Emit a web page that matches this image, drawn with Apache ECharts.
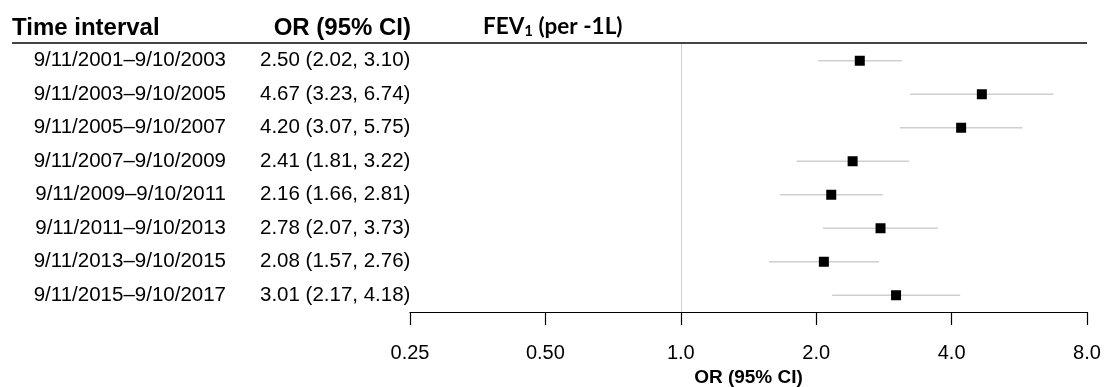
<!DOCTYPE html>
<html>
<head>
<meta charset="utf-8">
<script src="https://cdn.jsdelivr.net/npm/echarts@6/dist/echarts.min.js"></script>
<style>
  html, body {margin: 0; padding: 0; background: #fff;}
  #chart {width: 1104px; height: 387px;}
</style>
</head>
<body>
<div id="chart"></div>
<script>
    const intervals = [
        '9/11/2001–9/10/2003',
        '9/11/2003–9/10/2005',
        '9/11/2005–9/10/2007',
        '9/11/2007–9/10/2009',
        '9/11/2009–9/10/2011',
        '9/11/2011–9/10/2013',
        '9/11/2013–9/10/2015',
        '9/11/2015–9/10/2017'
    ];
    const orValues = [2.50, 4.67, 4.20, 2.41, 2.16, 2.78, 2.08, 3.01];
    const ciLow = [2.02, 3.23, 3.07, 1.81, 1.66, 2.07, 1.57, 2.17];
    const ciHigh = [3.10, 6.74, 5.75, 3.22, 2.81, 3.73, 2.76, 4.18];
    const xTicks = [0.25, 0.5, 1, 2, 4, 8];
    const xTickLabels = ['0.25', '0.50', '1.0', '2.0', '4.0', '8.0'];

    const font = '"Liberation Sans", Arial, Helvetica, sans-serif';
    const orText = orValues.map((v, i) =>
        v.toFixed(2) + ' (' + ciLow[i].toFixed(2) + ', ' + ciHigh[i].toFixed(2) + ')');

    const myChart = echarts.init(document.getElementById('chart'));

    myChart.setOption({
        animation: false,
        textStyle: {fontFamily: font, color: '#000'},
        grid: {left: 410, right: 17, top: 44, height: 268, containLabel: false, outerBoundsMode: 'none'},
        xAxis: {
            type: 'log',
            logBase: 2,
            min: 0.25,
            max: 8,
            interval: 1,
            splitLine: {show: false},
            axisLine: {show: true, onZero: false, lineStyle: {color: '#000', width: 1.2}},
            axisTick: {show: true, length: 13, lineStyle: {color: '#000', width: 1.2}},
            axisLabel: {
                fontSize: 20,
                color: '#000',
                margin: 31,
                formatter(val) {
                    const k = xTicks.findIndex(t => Math.abs(t - val) < 1e-6);
                    return k >= 0 ? xTickLabels[k] : '';
                }
            },
            name: 'OR (95% CI)',
            nameLocation: 'middle',
            nameGap: 56,
            nameTextStyle: {fontSize: 19, fontWeight: 'bold', color: '#000'}
        },
        yAxis: [{
            type: 'category',
            data: intervals,
            inverse: true,
            axisLine: {show: false},
            axisTick: {show: false},
            splitLine: {show: false},
            axisLabel: {fontSize: 20.5, color: '#000', margin: 184}
        }, {
            type: 'category',
            position: 'left',
            data: orText,
            inverse: true,
            axisLine: {show: false},
            axisTick: {show: false},
            splitLine: {show: false},
            axisLabel: {fontSize: 20.5, color: '#000', margin: 150, align: 'left'}
        }],
        graphic: [
            {type: 'text', left: 12, top: 16, style: {text: 'Time interval', font: 'bold 24px ' + font, fill: '#000'}},
            {type: 'text', right: 1104 - 411, top: 16, style: {text: 'OR (95% CI)', font: 'bold 24px ' + font, fill: '#000'}},
            {
                type: 'text', left: 483, top: 15,
                style: {
                    text: '{a|FEV}{s|1}{a| (per -1L)}',
                    rich: {
                        a: {fontFamily: 'Lato, "Open Sans", sans-serif', fontWeight: 'bold', fontSize: 22.5, fill: '#000'},
                        s: {fontFamily: 'Lato, "Open Sans", sans-serif', fontWeight: 'bold', fontSize: 15, fill: '#000', padding: [10, 0, 0, 0]}
                    }
                }
            },
            {type: 'line', shape: {x1: 12, y1: 43, x2: 1087, y2: 43}, style: {stroke: '#444', lineWidth: 2}}
        ],
        series: [{
            type: 'custom',
            renderItem(params, api) {
                const a = api.coord([api.value(1), api.value(0)]);
                const b = api.coord([api.value(2), api.value(0)]);
                return {
                    type: 'line',
                    shape: {x1: a[0], y1: a[1], x2: b[0], y2: b[1]},
                    style: {stroke: '#cfcfcf', lineWidth: 1.5}
                };
            },
            encode: {x: [1, 2], y: 0},
            data: intervals.map((c, i) => [i, ciLow[i], ciHigh[i]]),
            markLine: {
                silent: true,
                symbol: 'none',
                label: {show: false},
                lineStyle: {color: '#d0d0d0', type: 'solid', width: 1},
                data: [{xAxis: 1}]
            },
            z: 1
        }, {
            type: 'scatter',
            symbol: 'rect',
            symbolSize: 10,
            itemStyle: {color: '#000', opacity: 1},
            data: orValues.map((v, i) => [v, i]),
            z: 3
        }]
    });
</script>
</body>
</html>
